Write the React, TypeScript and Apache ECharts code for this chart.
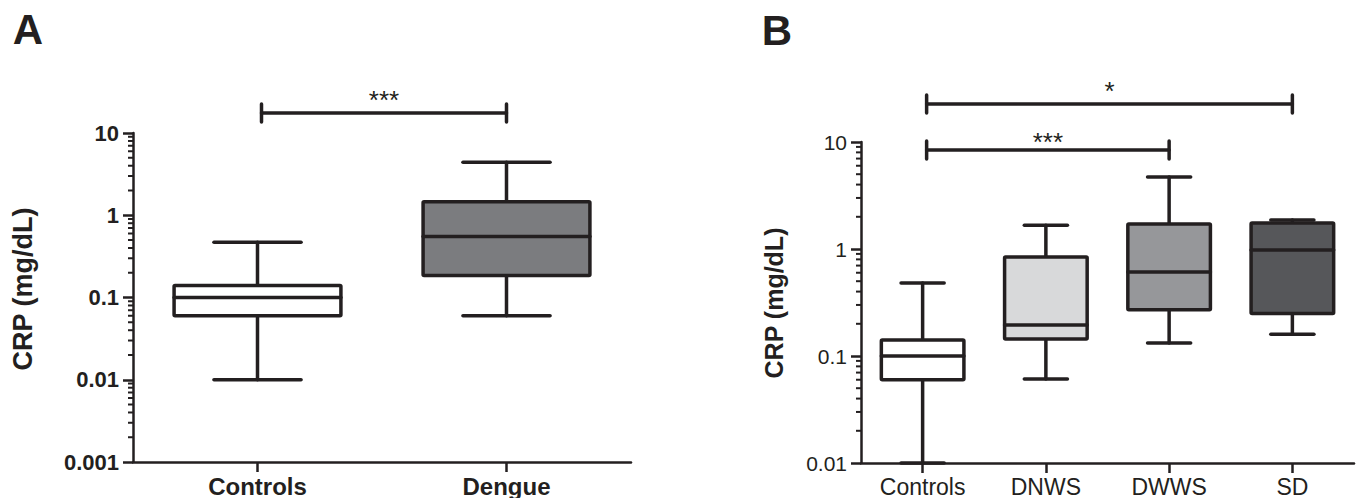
import React, { useEffect, useRef } from "react";
import * as echarts from "echarts";

const INK = "#231f20";
const FONT = '"Liberation Sans", Arial, Helvetica, sans-serif';

// ---- Panel A: Controls vs Dengue ----
const categoriesA = ["Controls", "Dengue"];
// five-number summaries: [min, Q1, median, Q3, max] in mg/dL
const controlsA = [0.01, 0.06, 0.1, 0.14, 0.47];
const dengueA = [0.06, 0.185, 0.55, 1.46, 4.4];
const fillsA = ["#ffffff", "#7b7c7f"];
const yMinA = 0.001;
const yMaxA = 10;
const comparisonsA = [{ from: 0, to: 1, label: "***" }];

// ---- Panel B: Controls vs dengue severity groups ----
const categoriesB = ["Controls", "DNWS", "DWWS", "SD"];
const controlsB = [0.01, 0.06, 0.1, 0.141, 0.48];
const dnwsB = [0.061, 0.144, 0.195, 0.84, 1.67];
const dwwsB = [0.132, 0.27, 0.61, 1.71, 4.7];
const sdB = [0.16, 0.25, 0.98, 1.75, 1.87];
const fillsB = ["#ffffff", "#d8d9da", "#96979a", "#56575a"];
const yMinB = 0.01;
const yMaxB = 10;
const comparisonsB = [
  { from: 0, to: 2, label: "***" },
  { from: 0, to: 3, label: "*" },
];

// bracket placement relative to the top of each plot area (px) and label gap
const bracketLayoutA = [{ offset: -20, gap: 13 }];
const bracketLayoutB = [
  { offset: 8, gap: 8 },
  { offset: -38, gap: 13 },
];

// minor log ticks (2..9 per decade) between the axis limits
function minorTicks(min: number, max: number): number[][] {
  const out: number[][] = [];
  for (let e = Math.round(Math.log10(min)); e < Math.round(Math.log10(max)); e++) {
    for (let m = 2; m <= 9; m++) out.push([0, m * Math.pow(10, e)]);
  }
  return out;
}

const fmt = (v: number) => String(parseFloat(v.toPrecision(6)));

function boxRenderer(fills: string[], nCats: number) {
  return (params: any, api: any) => {
    const cs = params.coordSys;
    const i = api.value(0);
    const [x, yLow] = api.coord([i, api.value(1)]);
    const yQ1 = api.coord([i, api.value(2)])[1];
    const yMed = api.coord([i, api.value(3)])[1];
    const yQ3 = api.coord([i, api.value(4)])[1];
    const yHigh = api.coord([i, api.value(5)])[1];
    const band = cs.width / nCats;
    const bw = band * 0.67;
    const cw = band * 0.35;
    const stroke = { stroke: INK, lineWidth: 3.5, lineCap: "round" };
    return {
      type: "group",
      children: [
        { type: "line", shape: { x1: x, y1: yQ1, x2: x, y2: yLow }, style: stroke },
        { type: "line", shape: { x1: x, y1: yQ3, x2: x, y2: yHigh }, style: stroke },
        { type: "line", shape: { x1: x - cw / 2, y1: yLow, x2: x + cw / 2, y2: yLow }, style: stroke },
        { type: "line", shape: { x1: x - cw / 2, y1: yHigh, x2: x + cw / 2, y2: yHigh }, style: stroke },
        {
          type: "rect",
          shape: { x: x - bw / 2, y: yQ3, width: bw, height: yQ1 - yQ3, r: 1 },
          style: { fill: fills[params.dataIndex], stroke: INK, lineWidth: 3.5, lineJoin: "round" },
        },
        { type: "line", shape: { x1: x - bw / 2, y1: yMed, x2: x + bw / 2, y2: yMed }, style: stroke },
      ],
    };
  };
}

function minorTickRenderer(len: number) {
  return (params: any, api: any) => {
    const cs = params.coordSys;
    const y = api.coord([0, api.value(1)])[1];
    return {
      type: "line",
      shape: { x1: cs.x - len, y1: y, x2: cs.x, y2: y },
      style: { stroke: INK, lineWidth: 2 },
    };
  };
}

function bracketRenderer(
  comps: { from: number; to: number; label: string }[],
  layout: { offset: number; gap: number }[],
) {
  return (params: any, api: any) => {
    const cs = params.coordSys;
    const k = params.dataIndex;
    const x1 = api.coord([api.value(0), api.value(2)])[0] + 4;
    const x2 = api.coord([api.value(1), api.value(2)])[0];
    const y = cs.y + layout[k].offset;
    const stroke = { stroke: INK, lineWidth: 3.5, lineCap: "round" };
    return {
      type: "group",
      children: [
        { type: "line", shape: { x1, y1: y, x2, y2: y }, style: stroke },
        { type: "line", shape: { x1, y1: y - 9, x2: x1, y2: y + 9 }, style: stroke },
        { type: "line", shape: { x1: x2, y1: y - 9, x2, y2: y + 9 }, style: stroke },
        {
          type: "text",
          style: {
            text: comps[k].label,
            x: (x1 + x2) / 2,
            y: y - layout[k].gap,
            fill: INK,
            font: `normal 26px ${FONT}`,
            align: "center",
            verticalAlign: "middle",
          },
        },
      ],
    };
  };
}

export default function App() {
  const ref = useRef<HTMLDivElement>(null);

  useEffect(() => {
    document.body.style.margin = "0";
    if (!ref.current) return;
    const chart = echarts.init(ref.current, undefined, { renderer: "svg" });

    const yAxisBase = (min: number, max: number, bold: boolean, size: number) => ({
      type: "log",
      logBase: 10,
      min,
      max,
      splitNumber: Math.round(Math.log10(max / min)),
      axisLine: { show: true, lineStyle: { color: INK, width: 2.5 } },
      axisTick: { show: true, length: 10, lineStyle: { color: INK, width: 2.5 } },
      axisLabel: {
        color: INK,
        fontFamily: FONT,
        fontWeight: bold ? "bold" : "normal",
        fontSize: size,
        margin: 14,
        formatter: fmt,
      },
      splitLine: { show: false },
    });

    const xAxisBase = (cats: string[], bold: boolean, size: number) => ({
      type: "category",
      data: cats,
      boundaryGap: true,
      axisLine: { show: true, lineStyle: { color: INK, width: 2.5 } },
      axisTick: { show: true, alignWithLabel: true, length: 10, lineStyle: { color: INK, width: 2.5 } },
      axisLabel: {
        color: INK,
        fontFamily: FONT,
        fontWeight: bold ? "bold" : "normal",
        fontSize: size,
        margin: 12,
      },
      splitLine: { show: false },
    });

    chart.setOption({
      animation: false,
      backgroundColor: "#ffffff",
      grid: [
        { left: 133, top: 133, width: 498, height: 329 },
        { left: 861, top: 142, width: 493, height: 321 },
      ],
      xAxis: [
        { ...xAxisBase(categoriesA, true, 24), gridIndex: 0 },
        { ...xAxisBase(categoriesB, false, 23), gridIndex: 1 },
      ],
      yAxis: [
        { ...yAxisBase(yMinA, yMaxA, true, 22), gridIndex: 0 },
        { ...yAxisBase(yMinB, yMaxB, false, 21), gridIndex: 1 },
      ],
      series: [
        {
          type: "custom",
          name: "minorA",
          xAxisIndex: 0,
          yAxisIndex: 0,
          clip: false,
          encode: { x: 0, y: 1 },
          data: minorTicks(yMinA, yMaxA),
          renderItem: minorTickRenderer(5),
        },
        {
          type: "custom",
          name: "minorB",
          xAxisIndex: 1,
          yAxisIndex: 1,
          clip: false,
          encode: { x: 0, y: 1 },
          data: minorTicks(yMinB, yMaxB),
          renderItem: minorTickRenderer(5),
        },
        {
          type: "custom",
          name: "CRP A",
          xAxisIndex: 0,
          yAxisIndex: 0,
          clip: false,
          encode: { x: 0, y: [1, 2, 3, 4, 5] },
          data: [controlsA, dengueA].map((d, i) => [i, ...d]),
          renderItem: boxRenderer(fillsA, categoriesA.length),
        },
        {
          type: "custom",
          name: "CRP B",
          xAxisIndex: 1,
          yAxisIndex: 1,
          clip: false,
          encode: { x: 0, y: [1, 2, 3, 4, 5] },
          data: [controlsB, dnwsB, dwwsB, sdB].map((d, i) => [i, ...d]),
          renderItem: boxRenderer(fillsB, categoriesB.length),
        },
        {
          type: "custom",
          name: "sigA",
          xAxisIndex: 0,
          yAxisIndex: 0,
          clip: false,
          encode: { x: [0, 1], y: 2 },
          data: comparisonsA.map((c) => [c.from, c.to, yMaxA]),
          renderItem: bracketRenderer(comparisonsA, bracketLayoutA),
        },
        {
          type: "custom",
          name: "sigB",
          xAxisIndex: 1,
          yAxisIndex: 1,
          clip: false,
          encode: { x: [0, 1], y: 2 },
          data: comparisonsB.map((c) => [c.from, c.to, yMaxB]),
          renderItem: bracketRenderer(comparisonsB, bracketLayoutB),
        },
      ],
      graphic: [
        {
          type: "text",
          x: 28,
          y: 29,
          style: { text: "A", fill: INK, font: `bold 42px ${FONT}`, align: "center", verticalAlign: "middle" },
        },
        {
          type: "text",
          x: 777,
          y: 30,
          style: { text: "B", fill: INK, font: `bold 42px ${FONT}`, align: "center", verticalAlign: "middle" },
        },
        {
          type: "text",
          x: 23,
          y: 289,
          rotation: Math.PI / 2,
          style: { text: "CRP (mg/dL)", fill: INK, font: `bold 27px ${FONT}`, align: "center", verticalAlign: "middle" },
        },
        {
          type: "text",
          x: 774,
          y: 303,
          rotation: Math.PI / 2,
          style: { text: "CRP (mg/dL)", fill: INK, font: `bold 25px ${FONT}`, align: "center", verticalAlign: "middle" },
        },
      ],
    });

    return () => chart.dispose();
  }, []);

  return <div ref={ref} style={{ width: 1361, height: 498 }} />;
}
